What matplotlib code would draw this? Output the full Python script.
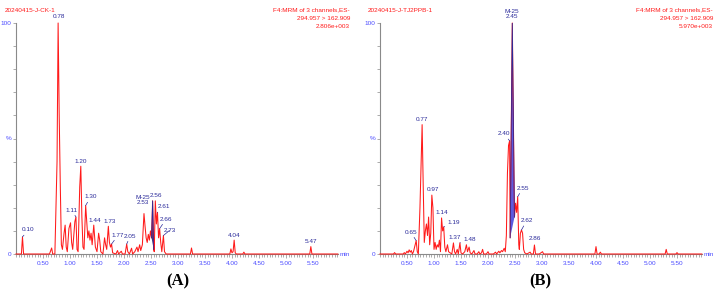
import matplotlib
matplotlib.use("Agg")
import matplotlib.pyplot as plt
from matplotlib.ticker import MultipleLocator, FixedLocator, FixedFormatter

plt.rcParams["font.family"] = ["Liberation Sans", "DejaVu Sans"]

# ---- data (retention time in min, relative intensity in %) ----
time_a = [0.00, 0.10, 0.12, 0.14, 0.62, 0.66, 0.68, 0.72, 0.76, 0.78, 0.80, 0.82, 0.84, 0.86,
          0.89, 0.91, 0.93, 0.95, 0.98, 1.01, 1.03, 1.05, 1.07, 1.09, 1.11, 1.13, 1.15, 1.18,
          1.20, 1.22, 1.24, 1.26, 1.29, 1.31, 1.33, 1.35, 1.37, 1.39, 1.41, 1.44, 1.47, 1.50,
          1.53, 1.55, 1.57, 1.61, 1.64, 1.66, 1.68, 1.71, 1.73, 1.75, 1.77, 1.79, 1.85, 1.88,
          1.90, 1.95, 1.97, 2.02, 2.05, 2.07, 2.10, 2.14, 2.16, 2.20, 2.24, 2.26, 2.29, 2.31,
          2.34, 2.37, 2.39, 2.41, 2.43, 2.45, 2.47, 2.49, 2.51, 2.53, 2.55, 2.56, 2.58, 2.60,
          2.62, 2.64, 2.66, 2.68, 2.70, 2.73, 2.75, 2.78, 3.23, 3.25, 3.27, 3.96, 3.98, 4.00,
          4.02, 4.04, 4.06, 4.08, 4.20, 4.22, 4.24, 5.44, 5.46, 5.48, 5.96]
inten_a = [0, 0, 7.4, 0, 0, 2.6, 0, 0, 40, 100, 60, 30, 4, 2,
           9, 12.5, 3, 1, 11, 13.5, 5, 2, 8, 14, 16, 2, 1, 29,
           38, 16, 3, 2, 21, 14, 7, 10, 6, 9, 4, 12.5, 3, 1,
           9, 6, 1, 0, 7, 4, 2, 12, 5, 3, 4.3, 0.5, 0, 1.5,
           0, 1.2, 0, 0, 4.3, 1, 0, 2.5, 0, 1, 3, 1, 4, 1.5,
           4, 17.5, 12, 7, 5, 8.5, 6, 10, 7, 23, 2, 1, 23, 13,
           18, 7, 11, 5, 1, 8, 1, 0, 0, 2.6, 0, 0, 2.2, 0.5,
           1, 6, 0.5, 0, 0, 0.8, 0, 0, 3.2, 0, 0]

time_b = [0.00, 0.25, 0.27, 0.29, 0.43, 0.45, 0.47, 0.50, 0.52, 0.54, 0.56, 0.58, 0.60, 0.62,
          0.67, 0.69, 0.71, 0.74, 0.78, 0.80, 0.82, 0.84, 0.86, 0.88, 0.90, 0.92, 0.94, 0.96,
          0.98, 1.00, 1.02, 1.04, 1.06, 1.08, 1.10, 1.12, 1.14, 1.16, 1.18, 1.20, 1.22, 1.25,
          1.27, 1.30, 1.33, 1.36, 1.38, 1.40, 1.43, 1.45, 1.48, 1.50, 1.53, 1.57, 1.60, 1.62,
          1.65, 1.67, 1.70, 1.74, 1.76, 1.80, 1.83, 1.85, 1.88, 1.90, 1.92, 1.97, 2.00, 2.02,
          2.10, 2.14, 2.16, 2.20, 2.22, 2.25, 2.27, 2.30, 2.32, 2.34, 2.36, 2.38, 2.40, 2.41,
          2.45, 2.49, 2.51, 2.53, 2.55, 2.57, 2.58, 2.60, 2.62, 2.64, 2.66, 2.68, 2.72, 2.78,
          2.80, 2.84, 2.86, 2.88, 2.95, 3.01, 3.03, 3.98, 4.00, 4.02, 4.06, 4.08, 4.10, 5.28,
          5.30, 5.32, 5.48, 5.50, 5.52, 5.96]
inten_b = [0, 0, 0.6, 0, 0, 0.6, 0, 1.2, 0.5, 1.8, 0.8, 1.5, 0, 1,
           5.8, 1, 0, 20, 56, 30, 5, 10, 13, 8, 16, 4, 9, 25.5,
           20, 2, 5, 2, 4, 3, 6, 1, 15.6, 10, 11.7, 3, 1, 4,
           1, 0.5, 0, 4.8, 1, 0, 2, 0, 4.8, 0.5, 0, 1, 4, 1,
           3, 0.5, 0, 1.5, 0, 0, 1, 0, 0.5, 2, 0, 0, 1, 0,
           0, 0.8, 0, 1.2, 0.5, 1.5, 1, 2.5, 1, 8, 35, 47, 49, 7,
           100, 16, 22, 18, 24.8, 4, 2, 9, 10.4, 9, 2, 0.5, 0, 0.8,
           0, 0, 3.9, 0, 0, 1, 0, 0, 3.2, 0, 0, 0.8, 0, 0,
           2, 0, 0, 0.6, 0, 0]

# integrated (blue) peak: start / end retention times
blue_a = (2.51, 2.55)
blue_b = (2.41, 2.49)

# peak labels: text, retention time, intensity at apex
labels_a = [("0.10", 0.12, 7.4), ("0.78", 0.78, 100), ("1.11", 1.11, 16), ("1.20", 1.20, 38),
            ("1.30", 1.29, 21), ("1.44", 1.44, 12.5), ("1.73", 1.71, 12), ("1.77", 1.77, 4.3),
            ("2.05", 2.05, 4.3), ("M-25\n2.53", 2.53, 23), ("2.56", 2.58, 23), ("2.61", 2.62, 18),
            ("2.66", 2.66, 11), ("2.73", 2.73, 8), ("4.04", 4.04, 6), ("5.47", 5.46, 3.2)]
labels_b = [("0.65", 0.67, 5.8), ("0.77", 0.78, 56), ("0.97", 0.96, 25.5), ("1.14", 1.14, 15.6),
            ("1.19", 1.18, 11.7), ("1.37", 1.36, 4.8), ("1.48", 1.48, 4.8), ("2.40", 2.40, 49),
            ("M-25\n2.45", 2.45, 100), ("2.55", 2.55, 24.8), ("2.62", 2.62, 10.4),
            ("2.86", 2.86, 3.9)]

header_left = ["20240415-J-CK-1", "20240415-J-TJ2PPB-1"]
header_right = [["F4:MRM of 3 channels,ES-", "294.957 > 162.909", "2.806e+003"],
                ["F4:MRM of 3 channels,ES-", "294.957 > 162.909", "5.970e+003"]]
panel_names = ["(A)", "(B)"]
xtick_vals = [0.50, 1.00, 1.50, 2.00, 2.50, 3.00, 3.50, 4.00, 4.50, 5.00, 5.50]

# ---- layout (label offsets in pixels: dx, dy, draw leader) ----
offs_a = [(6, 7, True), (1, 6, False), (-4, 7, True), (0, 5, False), (5, 8.5, True), (1, 5, False),
          (1.5, 5, False), (6.5, 9, True), (3.5, 8, True), (-10, 1, False), (0.5, 5, False),
          (6.5, 5.5, True), (6.5, 9.5, True), (6, 5, True), (0, 5, False), (0, 5, False)]
offs_b = [(-5.5, 8.5, True), (0, 5, False), (1.5, 6, False), (0.7, 5, False), (10, 4, True),
          (1.5, 5.5, False), (9.5, 3.5, True), (-5.5, 7, True), (0, 9, False), (5, 8.5, True),
          (5.2, 9.3, True), (0, 6, False)]

W, H = 719, 293
RED = "#ff1a1a"
NAVY = "#2a2a9a"
BLUE_TXT = "#4a4aff"
GREY = "#8a8a8a"
FS = 4.6

fig = plt.figure(figsize=(W / 100, H / 100), dpi=100)


def fx(px):
    return px / W


def fy(py):
    return 1 - py / H


def draw_panel(left_px, t, y, blue, labels, offs, fill_col):
    ax = fig.add_axes([fx(left_px), fy(254), fx(322), 231 / H])
    ax.set_xlim(0, 5.963)
    ax.set_ylim(0, 100)
    ax.patch.set_alpha(0)
    for s in ["top", "right"]:
        ax.spines[s].set_visible(False)
    for s in ["left", "bottom"]:
        ax.spines[s].set_color(GREY)
        ax.spines[s].set_linewidth(0.8)

    # integrated peak fill
    i0, i1 = t.index(blue[0]), t.index(blue[1])
    ax.fill(t[i0:i1 + 1], y[i0:i1 + 1], color=fill_col, lw=0, zorder=2)
    ax.plot(t, y, color=RED, lw=0.75, zorder=3, clip_on=False)
    ax.plot(t[i0:i1 + 1], y[i0:i1 + 1], color=NAVY, lw=0.6, zorder=4)

    ax.xaxis.set_major_locator(FixedLocator(xtick_vals))
    ax.xaxis.set_major_formatter(FixedFormatter(["%.2f" % v for v in xtick_vals]))
    ax.xaxis.set_minor_locator(MultipleLocator(0.05))
    ax.tick_params(axis="x", which="major", length=3, width=0.5, color=GREY,
                   labelsize=FS, labelcolor=BLUE_TXT, pad=2)
    ax.tick_params(axis="x", which="minor", length=2, width=0.5, color=GREY)
    ax.yaxis.set_major_locator(FixedLocator([0, 50, 100]))
    ax.yaxis.set_major_formatter(FixedFormatter(["0", "%", "100"]))
    ax.yaxis.set_minor_locator(MultipleLocator(10))
    ax.tick_params(axis="y", which="major", length=2, width=0.5, color=GREY,
                   labelsize=FS, labelcolor=BLUE_TXT, pad=1)
    ax.tick_params(axis="y", which="minor", length=2, width=0.5, color=GREY)
    ax.text(1.005, 0, "min", transform=ax.transAxes, fontsize=FS, color=BLUE_TXT,
            va="center", ha="left")

    for (txt, pt, py), (dx, dy, lead) in zip(labels, offs):
        kw = dict(xy=(pt, py), xytext=(dx, dy), textcoords="offset pixels",
                  ha="center", va="center", fontsize=FS, color=NAVY,
                  linespacing=1.0, annotation_clip=False, zorder=5)
        if lead:
            kw["arrowprops"] = dict(arrowstyle="-", color=NAVY, lw=0.5,
                                    shrinkA=0, shrinkB=0)
        ax.annotate(txt, **kw)

    return ax


draw_panel(16, time_a, inten_a, blue_a, labels_a, offs_a, "#3a3a80")
draw_panel(380, time_b, inten_b, blue_b, labels_b, offs_b, "#5a5ae0")

# headers and panel names
for i, (lx, rx, cx) in enumerate([(5, 350, 178), (368, 713, 540)]):
    fig.text(fx(lx), fy(10), header_left[i], fontsize=FS, color=RED, va="center", ha="left")
    for j, line in enumerate(header_right[i]):
        fig.text(fx(rx), fy(10 + 8 * j), line, fontsize=FS, color=RED,
                 va="center", ha="right")
    fig.text(fx(cx), fy(281), panel_names[i], fontsize=12, fontweight="bold",
             family=["Liberation Serif", "DejaVu Serif"], va="center", ha="center")

fig.savefig("out.png", dpi=100)
